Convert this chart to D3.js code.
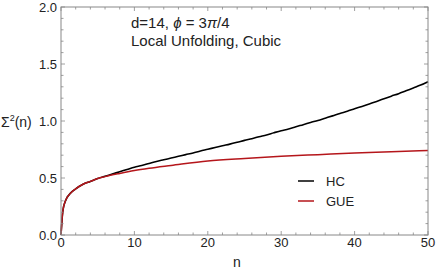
<!DOCTYPE html>
<html><head><meta charset="utf-8">
<script src="https://cdn.jsdelivr.net/npm/d3@7"></script>
<style>body{margin:0;background:#fff}svg{display:block}text{font-family:"Liberation Sans",Arial,sans-serif;fill:#222}</style>
</head><body><div id="chart"></div>
<script>
const hcN = [0,0.05,0.1,0.2,0.3,0.5,0.75,1,1.5,2,3,4,5,6,7,8,9,10,11,12,13,14,15,16,17,18,19,20,21,22,23,24,25,26,27,28,29,30,31,32,33,34,35,36,37,38,39,40,41,42,43,44,45,46,47,48,49,50];
const hcVals = [0,0.05,0.1,0.18,0.23,0.28,0.32,0.345,0.38,0.405,0.445,0.47,0.495,0.515,0.535,0.555,0.575,0.595,0.61,0.628,0.645,0.66,0.675,0.69,0.705,0.72,0.737,0.752,0.768,0.783,0.797,0.813,0.83,0.845,0.862,0.878,0.897,0.915,0.93,0.95,0.968,0.987,1.005,1.025,1.045,1.066,1.085,1.107,1.128,1.15,1.172,1.195,1.218,1.24,1.265,1.29,1.315,1.345];
const gueN = [0,0.05,0.1,0.2,0.3,0.5,0.75,1,1.5,2,3,4,5,6,8,10,12,15,20,25,30,35,40,45,50];
const gueVals = [0,0.05,0.1,0.18,0.23,0.28,0.32,0.345,0.38,0.405,0.445,0.47,0.495,0.512,0.54,0.565,0.585,0.61,0.65,0.672,0.69,0.705,0.72,0.73,0.742];
const xTicks = [0,10,20,30,40,50];
const yTicks = [0,0.5,1.0,1.5,2.0];
const seriesNames = ["HC","GUE"];
const seriesColors = ["#000000","#b5161b"];

const W=436,H=273;
const svg=d3.select("#chart").append("svg").attr("width",W).attr("height",H);
const x=d3.scaleLinear().domain([0,50]).range([61,428]);
const y=d3.scaleLinear().domain([0,2]).range([235,7]);
const frame="#888";

// data lines
const line=(xs,vs)=>d3.line().x((d,i)=>x(xs[i])).y((d,i)=>y(vs[i])).curve(d3.curveMonotoneX)(vs);
svg.append("path").attr("d",line(hcN,hcVals)).attr("fill","none").attr("stroke",seriesColors[0]).attr("stroke-width",1.6);
svg.append("path").attr("d",line(gueN,gueVals)).attr("fill","none").attr("stroke",seriesColors[1]).attr("stroke-width",1.5);

// frame
svg.append("rect").attr("x",61).attr("y",7).attr("width",367).attr("height",228).attr("fill","none").attr("stroke",frame).attr("stroke-width",1);

// ticks
const xMinor=d3.range(0,50.01,2), yMinor=d3.range(0,2.001,0.1);
const g=svg.append("g").attr("stroke",frame).attr("stroke-width",0.8);
xMinor.forEach(v=>{const major=Math.abs(v%10)<1e-6;const L=major?4:2.5;
  g.append("line").attr("x1",x(v)).attr("x2",x(v)).attr("y1",235).attr("y2",235-L);
  g.append("line").attr("x1",x(v)).attr("x2",x(v)).attr("y1",7).attr("y2",7+L);});
yMinor.forEach(v=>{const major=Math.abs((v*10)%5)<1e-6||Math.abs((v*10)%5-5)<1e-6;const L=major?4:2.5;
  g.append("line").attr("x1",61).attr("x2",61+L).attr("y1",y(v)).attr("y2",y(v));
  g.append("line").attr("x1",428).attr("x2",428-L).attr("y1",y(v)).attr("y2",y(v));});

// tick labels
xTicks.forEach(v=>svg.append("text").attr("x",x(v)).attr("y",247).attr("text-anchor","middle").attr("font-size",13).text(v));
yTicks.forEach(v=>svg.append("text").attr("x",57).attr("y",y(v)+4.5).attr("text-anchor","end").attr("font-size",13).text(v.toFixed(1)));

// axis labels
svg.append("text").attr("x",237).attr("y",267).attr("text-anchor","middle").attr("font-size",14).text("n");
const yl=svg.append("text").attr("x",1).attr("y",127).attr("font-size",14);
yl.append("tspan").text("Σ");
yl.append("tspan").attr("font-size",9).attr("dy",-6).text("2");
yl.append("tspan").attr("dy",6).text("(n)");

// annotation
const t1=svg.append("text").attr("x",131).attr("y",28).attr("font-size",15);
t1.append("tspan").text("d=14, ");
t1.append("tspan").attr("font-style","italic").text("ϕ");
t1.append("tspan").text(" = 3");
t1.append("tspan").attr("font-style","italic").text("π");
t1.append("tspan").text("/4");
svg.append("text").attr("x",131).attr("y",46).attr("font-size",15).text("Local Unfolding, Cubic");

// legend
seriesNames.forEach((s,i)=>{const yy=181+i*20;
  svg.append("line").attr("x1",298).attr("x2",314).attr("y1",yy).attr("y2",yy).attr("stroke",seriesColors[i]).attr("stroke-width",1.5);
  svg.append("text").attr("x",326).attr("y",yy+4.5).attr("font-size",13).text(s);});
</script></body></html>
